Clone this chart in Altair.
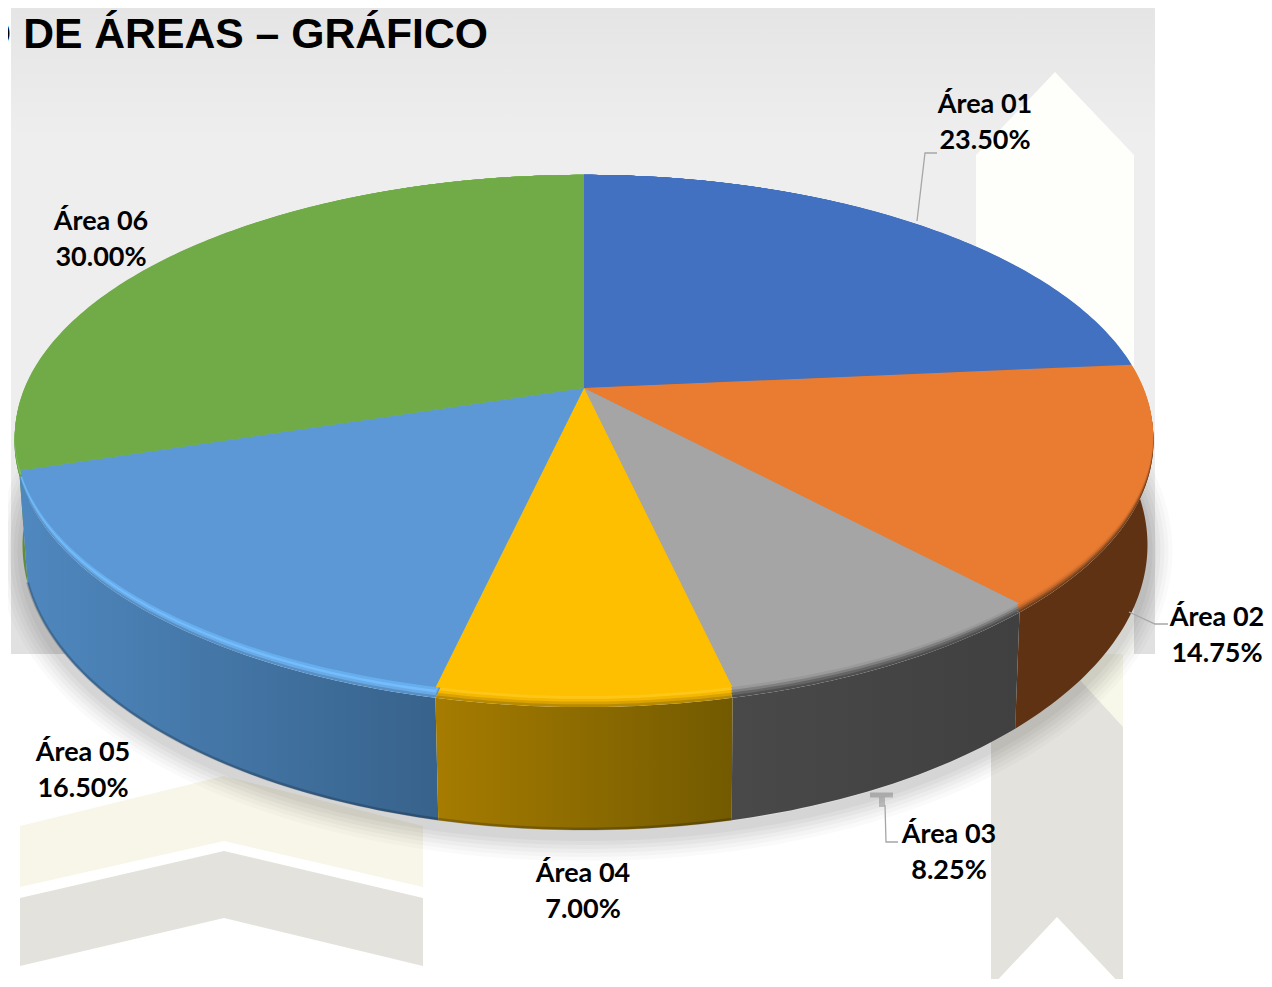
import math
import altair as alt
import pandas as pd

# ---- chart values
names = ["Área 01", "Área 02", "Área 03", "Área 04", "Área 05", "Área 06"]
shares = [23.50, 14.75, 8.25, 7.00, 16.50, 30.00]
top_colors = ["#4371c1", "#ea7c31", "#a5a5a5", "#fdbf00", "#5b98d5", "#70ab47"]
wall_from = ["#2f5597", "#5f3214", "#494949", "#a67c00", "#4f88bf", "#5f8e3b"]
wall_to = ["#2f5597", "#5f3214", "#404040", "#735a00", "#37628b", "#5f8e3b"]
title_text = "O DE ÁREAS – GRÁFICO"
bevel_colors = [
    ["#4371c1", "#3f6cb8", "#3a64ad", "#33589a"],
    ["#dd7630", "#c4682b", "#9a5322", "#74401a"],
    ["#9a9a9a", "#808080", "#656565", "#505050"],
    ["#ffc61a", "#f5b800", "#d9a200", "#b88a00"],
    ["#66aeee", "#74bcfb", "#69abe6", "#578fc6"],
    ["#78bd4d", "#7cc655", "#72b04a", "#659a40"],
]

# ---- layout of the drawing (page pixels)
W, H = 1256, 971
CX, CY, AX, AY, Q = 584, 388, 559.5, 252, 0.182
TOP_CY, TOP_A, TOP_B = 435.5, 568.5, 260.5
RIM_CY, RIM_A, RIM_B = 441, 569, 266
LOW_CX, LOW_CY, LOW_A, LOW_B = 585, 545, 562, 285


def top_pt(pct):
    a = pct / 100 * 2 * math.pi
    u, v = math.sin(a), -math.cos(a)
    w = 1 - Q * v
    return CX + AX * u / w, CY + AY * v / w


def param(pct):
    x, y = top_pt(pct)
    return (x - CX) / TOP_A, (y - TOP_CY) / TOP_B


def rim_pt(pct, f=1.0):
    c, s = param(pct)
    x0, y0 = top_pt(pct)
    x1, y1 = CX + RIM_A * c, RIM_CY + RIM_B * s
    return x0 + (x1 - x0) * f, y0 + (y1 - y0) * f


def low_pt(pct, off=0.0):
    c, s = param(pct)
    return LOW_CX + LOW_A * c, LOW_CY + LOW_B * s + off


def steps(p0, p1, d=0.25):
    n = max(2, int(abs(p1 - p0) / d))
    return [p0 + (p1 - p0) * i / n for i in range(n + 1)]


X = alt.X("x:Q", scale=alt.Scale(domain=[8, 8 + W]), axis=None)
Y = alt.Y("y:Q", scale=alt.Scale(domain=[8 + H, 8]), axis=None)


def frame(points):
    return pd.DataFrame([{"x": p[0], "y": p[1], "i": i} for i, p in enumerate(points)])


def poly(points, fill):
    pts = list(points) + [points[0]]
    return alt.Chart(frame(pts)).mark_line(
        fill=fill, stroke=None, strokeWidth=0, interpolate="linear"
    ).encode(x=X, y=Y, order="i:Q")


def stroke_line(points, color, width, opacity=1.0):
    return alt.Chart(frame(points)).mark_line(
        stroke=color, strokeWidth=width, opacity=opacity, interpolate="linear"
    ).encode(x=X, y=Y, order="i:Q")


def hgrad(c0, c1):
    return alt.Gradient(gradient="linear", x1=0, x2=1, y1=0, y2=0,
                        stops=[alt.GradientStop(color=c0, offset=0), alt.GradientStop(color=c1, offset=1)])


layers = []

# panel behind the pie
panel_fill = alt.Gradient(
    gradient="linear", x1=0, x2=0, y1=0, y2=1,
    stops=[alt.GradientStop(color="#e5e5e5", offset=0),
           alt.GradientStop(color="#eeeeee", offset=0.2),
           alt.GradientStop(color="#eeeeee", offset=0.6),
           alt.GradientStop(color="#e0e0e0", offset=1)])
layers.append(poly([(11, 8), (1155, 8), (1155, 654), (11, 654)], panel_fill))

# watermark ribbons
layers.append(poly([(976, 655), (976, 155), (1055, 72), (1134, 155), (1134, 655)], "#fefefa"))
layers.append(poly([(1057, 654), (1123, 654), (1123, 730), (1057, 730)], "#f7f7ea"))
layers.append(poly([(991, 987), (991, 727), (1057, 655), (1123, 727), (1123, 987), (1057, 917)], "#e3e2dc"))
layers.append(poly([(20, 826), (224, 776), (423, 826), (423, 887), (224, 841), (20, 887)], "#f8f6e9"))
layers.append(poly([(20, 898), (224, 851), (423, 898), (423, 966), (224, 918), (20, 966)], "#e3e2dc"))
layers.append(stroke_line([(870, 795), (893, 795)], "#cccccc", 5))
layers.append(stroke_line([(882, 795), (882, 807)], "#cccccc", 6))

# soft shadow under the pie
ring = [low_pt(p, 6) for p in steps(0, 100, 0.5)]
for width, op in [(50, 0.018), (42, 0.022), (34, 0.026), (26, 0.03), (18, 0.032), (10, 0.035)]:
    layers.append(stroke_line(ring, "#000000", width, op))

# cumulative shares of each slice
starts = [sum(shares[:i]) for i in range(len(shares))]
ends = [sum(shares[: i + 1]) for i in range(len(shares))]

# side walls, back to front
for k in [0, 5, 1, 4, 2, 3]:
    ps = steps(starts[k], ends[k])
    pts = [rim_pt(p) for p in ps] + [low_pt(p) for p in reversed(ps)]
    layers.append(poly(pts, hgrad(wall_from[k], wall_to[k])))

# dark lower edge
layers.append(stroke_line([low_pt(p, -1) for p in steps(ends[2], ends[4])], "#000000", 3, 0.2))

# bevel along the rim, outermost band first
for k in range(6):
    ps = steps(starts[k], ends[k])
    bands = bevel_colors[k]
    for j in range(len(bands)):
        f = 1 - j / len(bands)
        pts = [(CX, CY)] + [rim_pt(p, f) for p in ps]
        layers.append(poly(pts, bands[len(bands) - 1 - j]))

# top faces
for k in range(6):
    ps = steps(starts[k], ends[k])
    pts = [(CX, CY)] + [top_pt(p) for p in ps]
    layers.append(poly(pts, top_colors[k]))

# leader lines
leaders = [
    [(917, 221), (925, 153), (937, 153)],
    [(1129, 612), (1155, 624), (1168, 624)],
    [(885, 805), (886, 842), (898, 842)],
]
for pts in leaders:
    layers.append(stroke_line(pts, "#a6a6a6", 1.3))

# data labels
label_anchor_x = [985, 1217, 949, 583, 83, 101]
label_anchor_y = [104.5, 617.5, 834.5, 873.5, 752.5, 221.5]
rows = []
for k, name in enumerate(names):
    rows.append({"x": label_anchor_x[k], "y": label_anchor_y[k], "t": name})
    rows.append({"x": label_anchor_x[k], "y": label_anchor_y[k] + 36, "t": f"{shares[k]:.2f}%"})
layers.append(alt.Chart(pd.DataFrame(rows)).mark_text(
    font="Lato", fontWeight="bold", fontSize=27, color="#000000", align="center", baseline="middle"
).encode(x=X, y=Y, text="t:N"))

# title, cut off by the left edge of the picture
layers.append(alt.Chart(pd.DataFrame([{"x": 488, "y": 48, "t": title_text}])).mark_text(
    font="Liberation Sans", fontWeight="bold", fontSize=42.7, color="#000000", align="right", baseline="alphabetic"
).encode(x=X, y=Y, text="t:N"))

chart = alt.layer(*layers).properties(
    width=W, height=H, padding=0, autosize=alt.AutoSizeParams(type="none"), background="white"
).configure_view(stroke=None)

chart.save("out.html", embed_options={"renderer": "svg", "actions": False})
